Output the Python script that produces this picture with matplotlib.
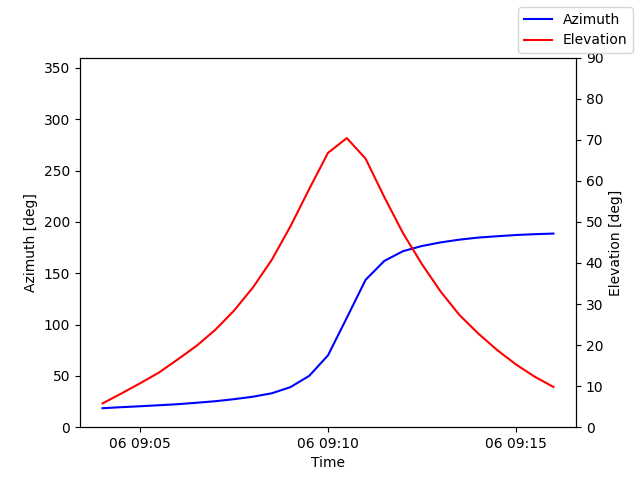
import pandas as pd
import matplotlib
matplotlib.use("Agg")
import matplotlib.pyplot as plt

# pass samples every 30 s
times = pd.date_range("2024-03-06 09:04:00", periods=25, freq="30s")

azimuth = [18.5, 19.5, 20.4, 21.4, 22.4, 23.8, 25.3, 27.3, 29.7, 33.0,
           39.0, 50.0, 70.0, 106.5, 143.5, 162.0, 171.5, 176.5, 180.0, 182.7,
           184.7, 186.0, 187.2, 188.0, 188.6]

elevation = [5.8, 8.2, 10.7, 13.3, 16.5, 19.8, 23.7, 28.4, 34.0, 40.7,
             48.9, 58.0, 66.8, 70.4, 65.4, 56.0, 47.2, 39.7, 33.0, 27.3,
             22.8, 18.8, 15.3, 12.3, 9.8]

fig, ax1 = plt.subplots(figsize=(6.4, 4.8), dpi=100)

ax1.plot(times, azimuth, "b-", label="Azimuth")
ax1.set_xlabel("Time")
ax1.set_ylabel("Azimuth [deg]")
ax1.set_ylim(0, 360)

ax2 = ax1.twinx()
ax2.plot(times, elevation, "r-", label="Elevation")
ax2.set_ylabel("Elevation [deg]")
ax2.set_ylim(0, 90)

fig.legend()
fig.savefig("out.png", dpi=100)
